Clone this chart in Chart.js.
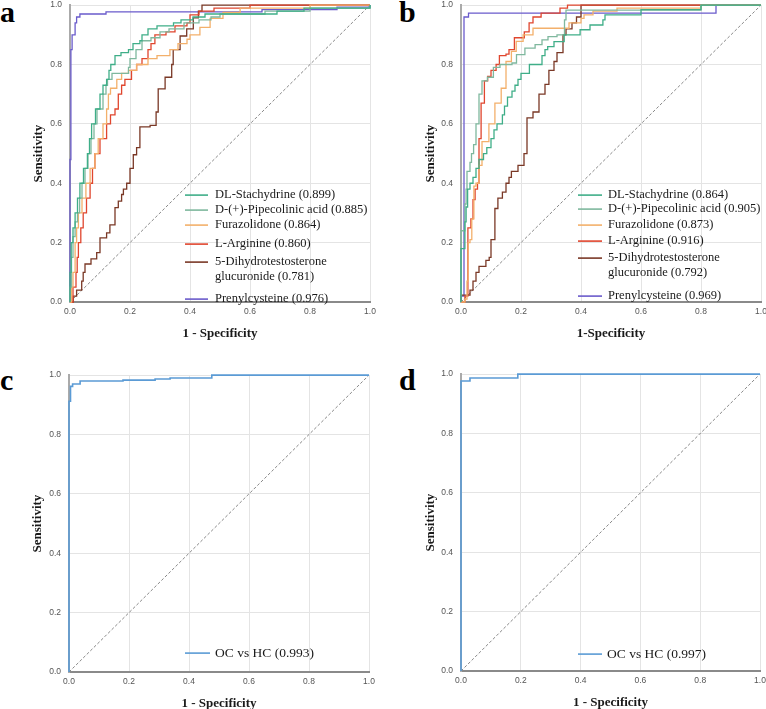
<!DOCTYPE html>
<html><head><meta charset="utf-8">
<script src="https://cdn.jsdelivr.net/npm/chart.js@4.4.1/dist/chart.umd.min.js"></script>
<style>
body{margin:0;width:766px;height:709px;background:#fff;position:relative;overflow:hidden}
canvas{position:absolute}
.lab{position:absolute;font:bold 30px "Liberation Serif";line-height:30px;color:#000}
</style></head><body>
<div class="lab" style="left:0;top:-3px">a</div>
<div class="lab" style="left:399px;top:-3px">b</div>
<div class="lab" style="left:0;top:365px">c</div>
<div class="lab" style="left:399px;top:365px">d</div>
<canvas id="ca" width="382" height="355" style="left:0;top:-8px"></canvas>
<canvas id="cb" width="382" height="355" style="left:391px;top:-8px"></canvas>
<canvas id="cc" width="382" height="355" style="left:-1px;top:362px"></canvas>
<canvas id="cd" width="381" height="355" style="left:391px;top:361px"></canvas>
<script>
// ---------- DATA ----------
const tickValues = [0, 0.2, 0.4, 0.6, 0.8, 1.0];
const diagonal = [0, 1];

const namesAB = ['DL-Stachydrine', 'D-(+)-Pipecolinic acid', 'Furazolidone', 'L-Arginine', '5-Dihydrotestosterone glucuronide', 'Prenylcysteine'];
const aucA = ['0.899', '0.885', '0.864', '0.860', '0.781', '0.976'];
const aucB = ['0.864', '0.905', '0.873', '0.916', '0.792', '0.969'];
const colorsAB = ['#3fae88', '#7fb89e', '#f3b06b', '#e0462e', '#7a3826', '#6a5bcb'];

// panel a (fpr = 1 - specificity, tpr = sensitivity)
const a_dl_fpr = [0,0,0.004,0.01,0.017,0.025,0.033,0.045,0.058,0.065,0.072,0.085,0.1,0.11,0.122,0.13,0.136,0.15,0.17,0.195,0.21,0.233,0.24,0.26,0.29,0.345,0.37,0.41,0.45,0.69,0.78,1];
const a_dl_tpr = [0,0.1,0.2,0.25,0.3,0.35,0.4,0.45,0.5,0.55,0.6,0.65,0.7,0.73,0.75,0.78,0.8,0.83,0.84,0.85,0.87,0.88,0.9,0.92,0.93,0.94,0.95,0.96,0.97,0.98,0.99,1];
const a_pip_fpr = [0,0,0.005,0.01,0.017,0.025,0.032,0.04,0.05,0.06,0.07,0.08,0.09,0.11,0.12,0.125,0.14,0.195,0.2,0.22,0.24,0.27,0.3,0.33,0.38,0.43,0.47,0.5,0.65,0.8,1];
const a_pip_tpr = [0,0.05,0.15,0.22,0.27,0.3,0.35,0.4,0.45,0.5,0.55,0.6,0.65,0.7,0.73,0.75,0.77,0.79,0.82,0.85,0.88,0.89,0.91,0.92,0.94,0.95,0.96,0.97,0.98,0.99,1];
const a_fur_fpr = [0,0.005,0.01,0.017,0.022,0.028,0.04,0.053,0.067,0.083,0.094,0.11,0.122,0.128,0.135,0.156,0.172,0.195,0.222,0.26,0.29,0.333,0.36,0.39,0.4,0.433,0.467,0.51,0.567,0.8,1];
const a_fur_tpr = [0,0.05,0.1,0.2,0.25,0.3,0.35,0.4,0.45,0.5,0.55,0.6,0.65,0.7,0.72,0.75,0.77,0.78,0.8,0.82,0.83,0.85,0.87,0.885,0.9,0.925,0.955,0.975,0.99,1,1];
const a_arg_fpr = [0,0.01,0.02,0.024,0.028,0.036,0.044,0.055,0.067,0.075,0.083,0.1,0.122,0.135,0.15,0.161,0.172,0.183,0.205,0.222,0.24,0.26,0.27,0.283,0.32,0.35,0.39,0.4,0.43,0.48,0.6,1];
const a_arg_tpr = [0,0.05,0.1,0.15,0.2,0.25,0.3,0.35,0.4,0.45,0.5,0.55,0.6,0.63,0.65,0.7,0.73,0.75,0.78,0.8,0.82,0.85,0.87,0.9,0.91,0.93,0.94,0.967,0.98,0.99,1,1];
const a_dht_fpr = [0,0.011,0.022,0.039,0.044,0.05,0.07,0.089,0.1,0.122,0.133,0.15,0.161,0.172,0.178,0.189,0.2,0.211,0.222,0.233,0.267,0.287,0.294,0.317,0.339,0.344,0.367,0.389,0.411,0.428,0.44,1];
const a_dht_tpr = [0,0.02,0.04,0.07,0.1,0.128,0.145,0.166,0.216,0.233,0.26,0.318,0.34,0.362,0.38,0.4,0.45,0.496,0.52,0.59,0.595,0.64,0.718,0.757,0.8,0.85,0.896,0.92,0.957,0.98,1,1];
const a_pre_fpr = [0,0,0.003,0.007,0.017,0.022,0.033,0.12,0.64,0.89,1];
const a_pre_tpr = [0,0.48,0.85,0.9,0.94,0.96,0.97,0.977,0.985,0.993,1];

// panel b
const b_dl_fpr = [0,0,0.013,0.017,0.022,0.03,0.04,0.05,0.06,0.075,0.086,0.1,0.11,0.12,0.138,0.145,0.155,0.17,0.18,0.19,0.2,0.228,0.27,0.28,0.289,0.31,0.344,0.397,0.43,0.473,0.48,0.6,0.8,1];
const b_dl_tpr = [0,0.18,0.27,0.32,0.38,0.4,0.42,0.45,0.48,0.5,0.52,0.55,0.58,0.6,0.63,0.66,0.69,0.71,0.73,0.75,0.77,0.8,0.83,0.85,0.86,0.877,0.9,0.917,0.933,0.95,0.967,0.985,1,1];
const b_pip_fpr = [0,0,0.013,0.017,0.02,0.03,0.035,0.042,0.05,0.06,0.07,0.088,0.108,0.13,0.17,0.185,0.213,0.247,0.27,0.29,0.32,0.345,0.35,0.8,1];
const b_pip_tpr = [0,0.24,0.33,0.38,0.44,0.47,0.5,0.53,0.6,0.7,0.745,0.757,0.79,0.8,0.805,0.833,0.855,0.867,0.883,0.894,0.9,0.95,0.983,1,1];
const b_fur_fpr = [0,0.013,0.02,0.024,0.03,0.036,0.043,0.05,0.06,0.07,0.093,0.113,0.134,0.15,0.168,0.184,0.207,0.24,0.36,0.4,0.41,0.44,0.52,0.8,1];
const b_fur_tpr = [0,0.01,0.07,0.2,0.21,0.28,0.39,0.4,0.46,0.54,0.6,0.67,0.72,0.81,0.844,0.878,0.9,0.922,0.94,0.955,0.967,0.98,0.99,1,1];
const b_arg_fpr = [0,0.013,0.023,0.033,0.04,0.047,0.055,0.06,0.067,0.078,0.089,0.1,0.117,0.128,0.15,0.16,0.178,0.211,0.227,0.24,0.267,0.33,0.355,1];
const b_arg_tpr = [0,0.02,0.25,0.28,0.345,0.38,0.4,0.55,0.67,0.745,0.76,0.78,0.8,0.83,0.835,0.85,0.89,0.91,0.94,0.96,0.973,0.99,1,1];
const b_dht_fpr = [0,0,0.03,0.04,0.05,0.06,0.083,0.094,0.1,0.113,0.123,0.138,0.15,0.16,0.168,0.19,0.21,0.22,0.24,0.26,0.28,0.293,0.31,0.32,0.34,0.35,0.37,0.385,0.4,1];
const b_dht_tpr = [0,0.023,0.04,0.07,0.1,0.12,0.14,0.15,0.21,0.315,0.35,0.37,0.4,0.42,0.44,0.46,0.5,0.62,0.64,0.7,0.733,0.78,0.81,0.84,0.9,0.92,0.94,0.96,1,1];
const b_pre_fpr = [0,0,0.01,0.025,0.85,1];
const b_pre_tpr = [0,0.02,0.96,0.973,1,1];

// panels c and d
const nameCD = 'OC vs HC';
const aucC = '0.993';
const aucD = '0.997';
const colorCD = '#5b9bd5';
const c_fpr = [0,0,0.005,0.012,0.037,0.18,0.287,0.337,0.476,1];
const c_tpr = [0,0.912,0.962,0.97,0.98,0.983,0.987,0.99,1,1];
const d_fpr = [0,0,0.03,0.19,1];
const d_tpr = [0,0.977,0.987,1,1];

// ---------- BUILD ----------
function pts(xs, ys){ return xs.map((x,i)=>({x:x, y:ys[i]})); }

function rocDataset(label, color, xs, ys){
  return {label, data: pts(xs, ys), borderColor: color, backgroundColor: color,
    borderWidth: 1.3, pointRadius: 0, stepped: 'before', fill: false, clip: 6, tension: 0};
}
function diagDataset(){
  return {label:'ref', data: pts(diagonal, diagonal), borderColor:'#6a6a6a', borderWidth:0.8,
    borderDash:[3,2], pointRadius:0, fill:false, clip:6, isRef:true};
}

const rocLegend = {
  id: 'rocLegend',
  afterDatasetsDraw(chart, args, opts){
    const {ctx, chartArea} = chart;
    ctx.save();
    ctx.font = opts.font;
    ctx.textBaseline = 'middle';
    ctx.textAlign = 'left';
    const items = chart.data.datasets.filter(d=>!d.isRef);
    items.forEach((ds, i)=>{
      const y = chartArea.top + opts.rows[i];
      const x0 = chartArea.left + opts.lineX;
      ctx.strokeStyle = ds.borderColor;
      ctx.lineWidth = 1.6;
      ctx.beginPath(); ctx.moveTo(x0, y); ctx.lineTo(x0 + opts.lineLen, y); ctx.stroke();
      const words = ds.legendText.split(' ');
      const lines = []; let cur = '';
      words.forEach(w=>{
        const t = cur ? cur + ' ' + w : w;
        if (cur && ctx.measureText(t).width > opts.maxWidth){ lines.push(cur); cur = w; } else cur = t;
      });
      lines.push(cur);
      ctx.fillStyle = '#1a1a1a';
      lines.forEach((t, k)=> ctx.fillText(t, chartArea.left + opts.textX, y + k*opts.lineH));
    });
    ctx.restore();
  }
};

function makeScale(axis, title, titlePad){
  const s = {
    type:'linear', min:0, max:1,
    afterBuildTicks(sc){ sc.ticks = tickValues.map(v=>({value:v})); },
    ticks:{font:{family:'Liberation Sans', size:8.5}, color:'#555',
      callback:v=>Number(v).toFixed(1), autoSkip:false, maxRotation:0},
    grid:{color:'#e4e4e4', lineWidth:1, drawTicks:false},
    title:{display:true, text:title, color:'#1a1a1a',
      font:{family:'Liberation Serif', size:13, weight:'bold'}}
  };
  if (axis === 'x'){
    s.ticks.padding = 5;
    s.border = {color:'#8a8a8a', width:2};
    s.title.padding = {top:0, bottom:titlePad};
    s.afterFit = sc => { sc.height = 45; };
  } else {
    s.ticks.padding = 8;
    s.border = {color:'#aaaaaa', width:2};
    s.title.padding = {top:titlePad, bottom:0};
    s.afterFit = sc => { sc.width = 70; };
  }
  return s;
}

function makeChart(id, datasets, xTitle, yPad, legendOpts){
  new Chart(document.getElementById(id), {
    type:'line',
    data:{datasets},
    options:{
      responsive:false, animation:false, parsing:false, normalized:true,
      layout:{padding:{left:0, top:10, right:12, bottom:0}},
      scales:{x:makeScale('x', xTitle, 6), y:makeScale('y', 'Sensitivity', yPad)},
      plugins:{legend:{display:false}, tooltip:{enabled:false}, rocLegend:legendOpts}
    },
    plugins:[rocLegend]
  });
}

function abDatasets(series, auc){
  const ds = series.map((s, i)=>{
    const d = rocDataset(namesAB[i], colorsAB[i], s[0], s[1]);
    d.legendText = namesAB[i] + ' (' + auc[i] + ')';
    return d;
  });
  ds.push(diagDataset());
  return ds;
}

const seriesA = [[a_dl_fpr,a_dl_tpr],[a_pip_fpr,a_pip_tpr],[a_fur_fpr,a_fur_tpr],[a_arg_fpr,a_arg_tpr],[a_dht_fpr,a_dht_tpr],[a_pre_fpr,a_pre_tpr]];
const seriesB = [[b_dl_fpr,b_dl_tpr],[b_pip_fpr,b_pip_tpr],[b_fur_fpr,b_fur_tpr],[b_arg_fpr,b_arg_tpr],[b_dht_fpr,b_dht_tpr],[b_pre_fpr,b_pre_tpr]];

const legendFont = '12.5px "Liberation Serif"';
makeChart('ca', abDatasets(seriesA, aucA), '1 - Specificity', 31,
  {font:legendFont, rows:[190,205,220,239,257,294], lineX:115, lineLen:23, textX:145, lineH:15, maxWidth:165});
makeChart('cb', abDatasets(seriesB, aucB), '1-Specificity', 32,
  {font:legendFont, rows:[190,204,220,236,253,291], lineX:117, lineLen:24, textX:147, lineH:15, maxWidth:165});

function cdDatasets(xs, ys, auc){
  const d = rocDataset(nameCD, colorCD, xs, ys);
  d.borderWidth = 1.6;
  d.legendText = nameCD + ' (' + auc + ')';
  return [d, diagDataset()];
}
makeChart('cc', cdDatasets(c_fpr, c_tpr, aucC), '1 - Specificity', 31,
  {font:'13.5px "Liberation Serif"', rows:[278], lineX:116, lineLen:25, textX:146, lineH:15, maxWidth:200});
makeChart('cd', cdDatasets(d_fpr, d_tpr, aucD), '1 - Specificity', 32,
  {font:'13.5px "Liberation Serif"', rows:[280], lineX:117, lineLen:24, textX:146, lineH:15, maxWidth:200});
</script>
</body></html>
